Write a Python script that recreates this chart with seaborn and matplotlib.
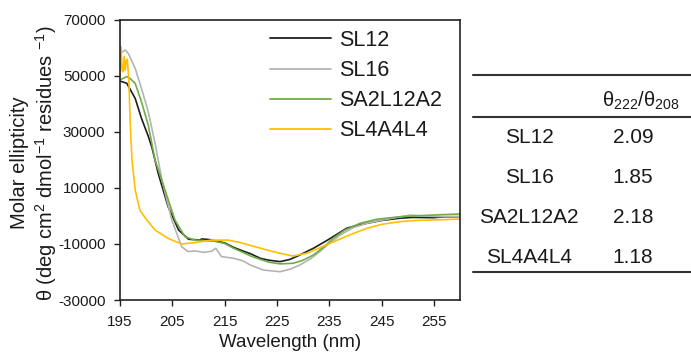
import numpy as np
import pandas as pd
import matplotlib
matplotlib.use("Agg")
import matplotlib.pyplot as plt
from matplotlib.lines import Line2D
import seaborn as sns

# CD spectra
wl_sl12 = [195, 196.3, 197.9, 199.1, 200.4, 201.1, 202.3, 204.2, 206.2, 208.1, 210.3, 210.6, 212, 213.5,
           215, 216.7, 218.5, 220, 221.8, 223.5, 225.6, 227.5, 229.4, 232, 234.5, 236.5, 238.3, 240,
           242.2, 245, 248.5, 251, 254.9, 257, 260]
th_sl12 = [48200, 47400, 42000, 34900, 28500, 24500, 15250, 3300, -5000, -8300, -8600, -8200, -8400, -9000,
           -9600, -11200, -12500, -13500, -15100, -15800, -16300, -15500, -13900, -11500, -8800, -6500, -4400, -3500,
           -2600, -1600, -800, -500, -600, -300, -250]

wl_sl16 = [195, 196, 196.6, 197.9, 199.1, 200.4, 201.7, 203, 204.9, 206, 206.8, 208, 209.5, 211, 212.5, 213.3,
           214.4, 216.7, 218.5, 219.9, 222.4, 225.6, 227.5, 229.4, 231.5, 233.2, 235, 237.1, 239.5, 242.2,
           245, 248, 250.5, 253, 256, 260]
th_sl16 = [58100, 59300, 58000, 52700, 45600, 37300, 26000, 13000, -1400, -7000, -11000, -12700, -12500, -13000,
           -12600, -11500, -14500, -15100, -16000, -17500, -19300, -19900, -19000, -17500, -15200, -12700, -9800,
           -6800, -4200, -2600, -1500, -500, 350, 0, -200, -250]

wl_sa2 = [195, 196.3, 197, 197.9, 199.1, 200.4, 201.7, 203.6, 205.5, 207.4, 209.3, 211, 213, 215, 216.7, 218.5,
          220, 221.8, 223.5, 225.6, 228.1, 230, 232, 234, 235.8, 238, 240.9, 244, 248.5, 251, 254.9, 257, 260]
th_sa2 = [48600, 49800, 49000, 47400, 40800, 32500, 20000, 9300, -1400, -7400, -8600, -8800, -9000, -9800,
          -11500, -13000, -14300, -15500, -16500, -17100, -16900, -15800, -13900, -11000, -7900, -5000, -2600,
          -1200, -250, 0, 350, 500, 700]

wl_sl4 = [195, 195.2, 195.4, 195.6, 195.8, 196.0, 196.2, 196.4, 196.7, 196.9, 197.1, 197.3, 197.9, 198.8, 200.1,
          201.7, 204.2, 206.8, 209.3, 212.5, 215.7, 218, 220.5, 223, 225.5, 228.1, 230.7, 233, 235.8, 239,
          242.2, 245, 248.5, 251.5, 254.9, 260]
th_sl4 = [50000, 60500, 52000, 51500, 57000, 52000, 55500, 56000, 48000, 36000, 27000, 20000, 9300, 2100, -1400,
          -5000, -8000, -10000, -9500, -8600, -8600, -9500, -10800, -12100, -13300, -14300, -13300, -11500,
          -9200, -6700, -4400, -3000, -2000, -1600, -1400, -1100]

peptides = ["SL12", "SL16", "SA2L12A2", "SL4A4L4"]
ratios = ["2.09", "1.85", "2.18", "1.18"]
colors = ["#1e1e1e", "#b4b4b4", "#70ad47", "#ffc000"]

frames = []
for name, wl, th in zip(peptides, [wl_sl12, wl_sl16, wl_sa2, wl_sl4], [th_sl12, th_sl16, th_sa2, th_sl4]):
    frames.append(pd.DataFrame({"wl": wl, "theta": th, "peptide": name}))
df = pd.concat(frames, ignore_index=True)

sns.set_style("ticks")
plt.rcParams["font.family"] = ["Liberation Sans", "DejaVu Sans"]
plt.rcParams["axes.unicode_minus"] = False
plt.rcParams["mathtext.fontset"] = "custom"
plt.rcParams["mathtext.rm"] = "Liberation Sans"
plt.rcParams["mathtext.it"] = "Liberation Sans:italic"
plt.rcParams["text.color"] = "#1a1a1a"

fig = plt.figure(figsize=(6.91, 3.56), dpi=100)
ax = fig.add_axes([120 / 691, 1 - 300 / 356, 340 / 691, 280 / 356])

sns.lineplot(data=df, x="wl", y="theta", hue="peptide", hue_order=peptides,
             palette=colors, estimator=None, sort=False, linewidth=1.2, ax=ax)

ax.set_xlim(195, 260)
ax.set_ylim(-30000, 70000)
ax.set_xticks(np.arange(195, 260, 10))
ax.set_yticks(np.arange(-30000, 70001, 20000))
ax.tick_params(labelsize=11, length=4.5, width=1, pad=6, colors="#222222", labelcolor="#1a1a1a")
for s in ax.spines.values():
    s.set_visible(True)
    s.set_linewidth(1.2)
    s.set_color("#222222")

ax.set_xlabel("Wavelength (nm)", fontsize=13.5, labelpad=4, color="#1a1a1a")
ax.set_ylabel("Molar ellipticity\nθ (deg cm$^{2}$ dmol$^{-1}$ residues $^{-1}$)", fontsize=14.5,
              linespacing=1.2, color="#1a1a1a")
ax.yaxis.set_label_coords(-0.18, 0.49)

handles = [Line2D([], [], color=c, lw=1.3) for c in colors]
ax.legend(handles, peptides, loc="upper left", bbox_to_anchor=(270 / 691, 1 - 30 / 356),
          bbox_transform=fig.transFigure, frameon=False, fontsize=15.5, handlelength=2.85,
          handletextpad=0.35, labelspacing=0.42, borderpad=0, borderaxespad=0)

# ratio table on the right
line_kw = dict(color="#333333", lw=1.5, transform=fig.transFigure)
for ypx in [75, 117, 272]:
    fig.add_artist(Line2D([473 / 691, 1.0], [1 - ypx / 356] * 2, **line_kw))
fig.text(641 / 691, 1 - 107 / 356, r"θ$_{222}$/θ$_{208}$", ha="center", va="baseline", fontsize=14.5)
for i, (name, r) in enumerate(zip(peptides, ratios)):
    ypx = 143 + i * 40
    fig.text(529 / 691, 1 - ypx / 356, name, ha="center", va="baseline", fontsize=15)
    fig.text(633 / 691, 1 - ypx / 356, r, ha="center", va="baseline", fontsize=15)

fig.savefig("out.png", dpi=100)
